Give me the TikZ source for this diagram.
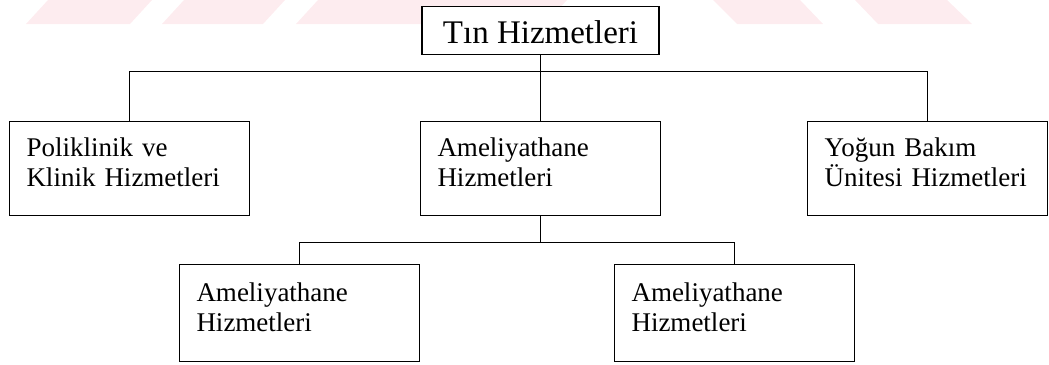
\documentclass[tikz,border=0pt]{standalone}
\usepackage{fontspec}
\newfontfamily\scanfont{Liberation Serif}
\usepackage{tikz}
\usetikzlibrary{positioning}
\definecolor{stamppink}{HTML}{FDECEF}

\begin{document}
\begin{tikzpicture}[x=1pt, y=-1pt,
    every node/.style={draw, fill=white, line width=1.7pt, inner sep=0pt,
      font=\scanfont\fontsize{27}{30}\selectfont},
    unit/.style={minimum width=240pt, minimum height=94pt, text width=206pt,
      inner xsep=17pt, align=left, text depth=42pt},
    link/.style={line width=1pt}]
  \useasboundingbox (0,0) rectangle (1049,364);

  \fill[stamppink] (26,24) -- (48,0) -- (152,0) -- (130,24) -- cycle;
  \fill[stamppink] (162,24) -- (184,0) -- (285,0) -- (263,24) -- cycle;
  \fill[stamppink] (296,24) -- (318,0) -- (567,0) -- (545,24) -- cycle;
  \fill[stamppink] (713,0) -- (800,0) -- (823,24) -- (737,24) -- cycle;
  \fill[stamppink] (855,0) -- (947,0) -- (972,24) -- (878,24) -- cycle;

  \node[minimum width=237pt, minimum height=48pt, text height=25pt, text depth=0pt,
    font=\scanfont\fontsize{33}{35}\selectfont] (tin) at (540.5,30.5) {Tın Hizmetleri};

  \node[unit] (pol) at (129.5,168.5) {Poliklinik ve\\Klinik Hizmetleri};
  \node[unit] (ame) at (540.5,168.5) {Ameliyathane\\Hizmetleri};
  \node[unit] (yog) at (927.5,168.5) {Yoğun Bakım\\Ünitesi Hizmetleri};

  \node[unit, minimum height=97pt] (ame1) at (299.5,313) {Ameliyathane\\Hizmetleri};
  \node[unit, minimum height=97pt] (ame2) at (734.5,313) {Ameliyathane\\Hizmetleri};

  \coordinate (bus) at (540.5,71.5);
  \coordinate (subbus) at (540.5,242.5);

  \draw[link] (tin) -- (bus);
  \draw[link] (pol.north) |- (bus) -| (yog.north);
  \draw[link] (bus) -- (ame);
  \draw[link] (ame) -- (subbus);
  \draw[link] (ame1.north) |- (subbus) -| (ame2.north);
\end{tikzpicture}
\end{document}
